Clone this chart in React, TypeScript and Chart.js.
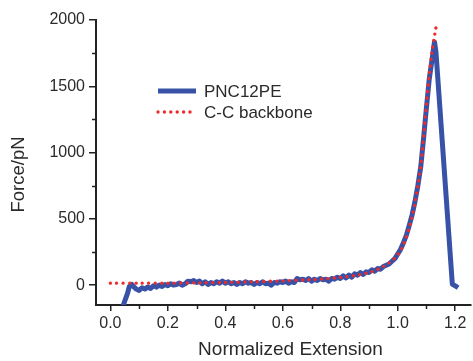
import { useEffect, useRef } from "react";
import { Chart, registerables } from "chart.js";

Chart.register(...registerables);

const FONT = "'Liberation Sans', Arial, Helvetica, sans-serif";
const TEXT = "#2a2a2a";
const AXIS = "#222222";
const BLUE = "#3752A6";
const RED = "#EE2B2B";

const seriesNames = ["PNC12PE", "C-C backbone"];
const xTitle = "Normalized Extension";
const yTitle = "Force/pN";
const xTicks = [0, 0.2, 0.4, 0.6, 0.8, 1.0, 1.2];
const yTicks = [0, 500, 1000, 1500, 2000];
const xMinorTicks = [0.1, 0.3, 0.5, 0.7, 0.9, 1.1];
const yMinorTicks = [250, 750, 1250, 1750];

// measured trace (x = normalized extension, y = force in pN)
const pnc12pe: [number, number][] = [
  [0.044, -160], [0.05, -120], [0.055, -90], [0.06, -60], [0.066, -10], [0.07, -5], [0.075, 5],
  [0.08, -10], [0.09, -30], [0.1, -40], [0.11, -20], [0.12, -30], [0.13, -15], [0.14, -25],
  [0.15, -5], [0.16, -15], [0.17, 0], [0.18, -10], [0.19, 5], [0.2, -5], [0.21, 10], [0.22, 0],
  [0.23, 5], [0.24, 15], [0.25, 0], [0.26, 10], [0.27, 30], [0.28, 25], [0.29, 35], [0.3, 20],
  [0.31, 30], [0.32, 10], [0.33, 25], [0.34, 5], [0.35, 20], [0.36, 10], [0.37, 25], [0.38, 15],
  [0.39, 30], [0.4, 15], [0.41, 25], [0.42, 10], [0.43, 20], [0.44, 5], [0.45, 20], [0.46, 10],
  [0.47, 25], [0.48, 15], [0.49, 20], [0.5, 5], [0.51, 20], [0.52, 10], [0.53, 25], [0.54, 10],
  [0.55, 15], [0.56, 0], [0.57, 20], [0.58, 15], [0.59, 25], [0.6, 20], [0.61, 30], [0.62, 15],
  [0.63, 25], [0.64, 20], [0.65, 50], [0.66, 40], [0.67, 45], [0.68, 35], [0.69, 50], [0.7, 30],
  [0.71, 45], [0.72, 35], [0.73, 50], [0.74, 40], [0.75, 45], [0.76, 30], [0.77, 50], [0.78, 45],
  [0.79, 60], [0.8, 50], [0.81, 70], [0.82, 55], [0.83, 75], [0.84, 60], [0.85, 85], [0.86, 75],
  [0.87, 95], [0.88, 80], [0.89, 100], [0.9, 95], [0.91, 115], [0.92, 105], [0.93, 125], [0.94, 120],
  [0.95, 140], [0.96, 150], [0.97, 160], [0.98, 180], [0.99, 200], [1.0, 235], [1.01, 270],
  [1.02, 320], [1.03, 375], [1.04, 450], [1.05, 530], [1.06, 630], [1.07, 750], [1.08, 890],
  [1.09, 1110], [1.1, 1340], [1.11, 1560], [1.12, 1710], [1.128, 1835], [1.133, 1760],
  [1.19, 8], [1.2, -5], [1.21, -20],
];

// C-C backbone model curve
const ccBackbone: [number, number][] = [
  [0, 15], [0.1, 15], [0.2, 15], [0.3, 17], [0.4, 20], [0.5, 25], [0.6, 32], [0.7, 42],
  [0.75, 48], [0.8, 58], [0.85, 72], [0.9, 95], [0.93, 118], [0.95, 140], [0.97, 168],
  [0.99, 205], [1.0, 230], [1.01, 262], [1.02, 305], [1.03, 365], [1.04, 430], [1.05, 515],
  [1.06, 620], [1.07, 745], [1.08, 895], [1.09, 1125], [1.1, 1365], [1.11, 1590], [1.12, 1770],
  [1.13, 1905], [1.136, 1980],
];

const decorPlugin = {
  id: "decor",
  afterDraw(chart: any) {
    const ctx = chart.ctx;
    const xs = chart.scales.x;
    const ys = chart.scales.y;
    const area = chart.chartArea;
    ctx.save();
    // minor ticks
    ctx.strokeStyle = AXIS;
    ctx.lineWidth = 1.5;
    ctx.beginPath();
    for (const v of xMinorTicks) {
      const px = Math.round(xs.getPixelForValue(v)) + 0.5;
      ctx.moveTo(px, area.bottom);
      ctx.lineTo(px, area.bottom + 4);
    }
    for (const v of yMinorTicks) {
      const py = Math.round(ys.getPixelForValue(v)) + 0.5;
      ctx.moveTo(area.left, py);
      ctx.lineTo(area.left - 4, py);
    }
    ctx.stroke();

    // axis titles
    ctx.fillStyle = TEXT;
    ctx.textAlign = "center";
    ctx.textBaseline = "middle";
    ctx.font = `19px ${FONT}`;
    ctx.fillText(xTitle, (area.left + area.right) / 2 + 7, area.bottom + 45);
    ctx.save();
    ctx.translate(19, (area.top + area.bottom) / 2 + 12);
    ctx.rotate(-Math.PI / 2);
    ctx.font = `18.5px ${FONT}`;
    ctx.fillText(yTitle, 0, 0);
    ctx.restore();

    // legend
    const lx = area.left + 62;
    const ly = area.top + 71;
    const gap = 21;
    const ds = chart.data.datasets;
    ctx.font = `17px ${FONT}`;
    ctx.fillStyle = TEXT;
    ctx.textBaseline = "middle";
    ctx.textAlign = "left";
    for (let i = 0; i < ds.length; i++) {
      const y = ly + i * gap;
      ctx.beginPath();
      ctx.strokeStyle = ds[i].borderColor;
      ctx.lineWidth = ds[i].borderWidth;
      ctx.lineCap = ds[i].borderCapStyle || "butt";
      ctx.setLineDash(ds[i].borderDash || []);
      ctx.moveTo(lx, y);
      ctx.lineTo(lx + 38, y);
      ctx.stroke();
      ctx.setLineDash([]);
      ctx.fillText(ds[i].label, lx + 46, y + 1);
    }
    ctx.restore();
  },
};

export default function App() {
  const ref = useRef<HTMLCanvasElement | null>(null);
  useEffect(() => {
    if (!ref.current) return;
    const chart = new Chart(ref.current, {
      type: "line",
      data: {
        datasets: [
          {
            label: seriesNames[0],
            data: pnc12pe.map(([x, y]) => ({ x, y })),
            borderColor: BLUE,
            backgroundColor: BLUE,
            borderWidth: 5,
            borderJoinStyle: "round",
            borderCapStyle: "butt",
            pointRadius: 0,
            tension: 0,
            order: 1,
          },
          {
            label: seriesNames[1],
            data: ccBackbone.map(([x, y]) => ({ x, y })),
            borderColor: RED,
            backgroundColor: RED,
            borderWidth: 3.4,
            borderDash: [0, 6.4],
            borderCapStyle: "round",
            pointRadius: 0,
            tension: 0.3,
            order: 0,
          },
        ],
      },
      options: {
        responsive: false,
        animation: false,
        layout: { padding: { top: 20, right: 2, left: 0, bottom: 0 } },
        plugins: { legend: { display: false }, tooltip: { enabled: false } },
        scales: {
          x: {
            type: "linear",
            min: -0.05,
            max: 1.255,
            afterBuildTicks: (s: any) => {
              s.ticks = xTicks.map((value) => ({ value }));
            },
            afterFit: (s: any) => {
              s.height = 56;
              s.paddingLeft = 0;
              s.paddingRight = 0;
            },
            ticks: {
              maxRotation: 0,
              autoSkip: false,
              padding: 3,
              color: TEXT,
              font: { family: FONT, size: 16 },
              callback: (v: any) => Number(v).toFixed(1),
            },
            grid: { drawOnChartArea: false, drawTicks: true, tickLength: 6, color: AXIS, lineWidth: 1.5 },
            border: { display: true, color: AXIS, width: 2 },
          },
          y: {
            type: "linear",
            min: -150,
            max: 2000,
            afterBuildTicks: (s: any) => {
              s.ticks = yTicks.map((value) => ({ value }));
            },
            afterFit: (s: any) => {
              s.width = 96;
              s.paddingTop = 0;
              s.paddingBottom = 0;
            },
            ticks: {
              autoSkip: false,
              padding: 4,
              color: TEXT,
              font: { family: FONT, size: 16 },
              callback: (v: any) => String(v),
            },
            grid: { drawOnChartArea: false, drawTicks: true, tickLength: 7, color: AXIS, lineWidth: 1.5 },
            border: { display: true, color: AXIS, width: 2 },
          },
        },
      },
      plugins: [decorPlugin],
    } as any);
    return () => chart.destroy();
  }, []);
  return (
    <div style={{ position: "fixed", left: 0, top: 0, width: 473, height: 361, background: "#fff" }}>
      <canvas ref={ref} width={473} height={361} style={{ display: "block" }} />
    </div>
  );
}
